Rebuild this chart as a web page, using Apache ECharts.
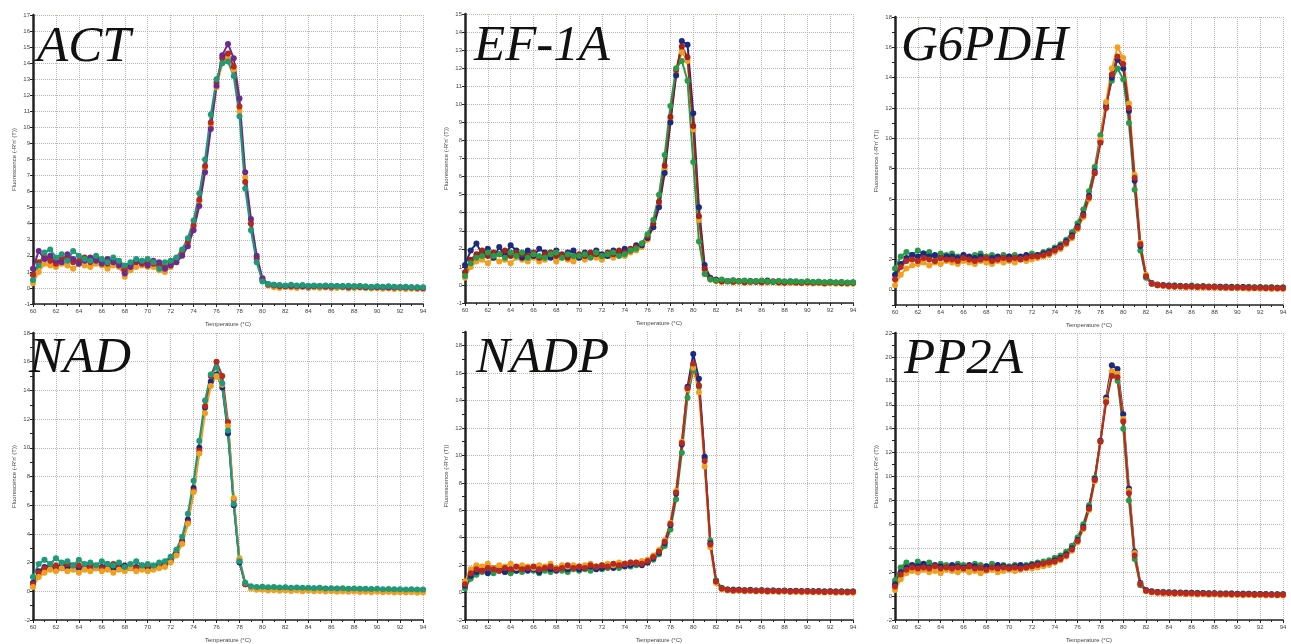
<!DOCTYPE html>
<html>
<head>
<meta charset="utf-8">
<title>Melt curves</title>
<script src="https://cdn.jsdelivr.net/npm/echarts@6/dist/echarts.min.js"></script>
<style>
html,body{margin:0;padding:0;background:#fff;}
#chart{width:1291px;height:644px;}
</style>
</head>
<body>
<div id="chart"></div>
<script>
// temperature steps (°C)
var temps = [
  60,60.5,61,61.5,62,62.5,63,63.5,64,64.5,
  65,65.5,66,66.5,67,67.5,68,68.5,69,69.5,
  70,70.5,71,71.5,72,72.5,73,73.5,74,74.5,
  75,75.5,76,76.5,77,77.5,78,78.5,79,79.5,
  80,80.5,81,81.5,82,82.5,83,83.5,84,84.5,
  85,85.5,86,86.5,87,87.5,88,88.5,89,89.5,
  90,90.5,91,91.5,92,92.5,93,93.5,94
];

// ACT replicates
var actA = [
  0.8,1.6,1.9,1.7,1.5,1.8,1.9,1.6,1.7,1.9,
  1.6,1.8,1.6,1.5,1.7,1.5,1.2,1.4,1.6,1.5,
  1.6,1.5,1.4,1.3,1.5,1.8,2.2,2.9,3.9,5.5,
  7.6,10.3,12.8,14.3,14.6,13.8,11.3,6.6,4.0,1.8,
  0.5,0.2,0.15,0.1,0.12,0.1,0.1,0.12,0.1,0.1,
  0.1,0.08,0.1,0.1,0.08,0.05,0.1,0.06,0.05,0.05,
  0.05,0.04,0.06,0.03,0.02,0.04,0.02,0.0,0.01
];
var actB = [
  1.2,2.3,1.8,2.0,1.7,1.6,2.1,1.8,1.5,1.7,
  1.9,1.7,1.5,1.8,1.6,1.4,0.9,1.3,1.7,1.6,
  1.4,1.7,1.6,1.2,1.4,1.6,2.0,2.6,3.6,5.1,
  7.2,9.9,12.6,14.5,15.2,14.3,11.8,7.2,4.3,2.0,
  0.6,0.25,0.2,0.15,0.1,0.15,0.12,0.1,0.08,0.12,
  0.1,0.12,0.08,0.1,0.1,0.07,0.08,0.1,0.06,0.04,
  0.06,0.05,0.03,0.05,0.04,0.02,0.03,0.02,0.0
];
var actC = [
  0.5,1.4,2.2,2.4,1.9,2.1,1.7,2.3,2.0,1.8,
  1.7,2.0,1.8,1.6,1.9,1.7,1.4,1.6,1.8,1.7,
  1.8,1.6,1.2,1.6,1.7,1.9,2.4,3.1,4.2,5.9,
  8.0,10.8,13.0,14.0,14.1,13.2,10.7,6.2,3.6,1.6,
  0.4,0.25,0.2,0.18,0.15,0.2,0.15,0.18,0.14,0.15,
  0.12,0.15,0.13,0.1,0.12,0.14,0.1,0.12,0.1,0.08,
  0.1,0.08,0.1,0.07,0.06,0.08,0.05,0.04,0.05
];
var actD = [
  0.3,1.0,1.5,1.4,1.3,1.5,1.4,1.2,1.5,1.4,
  1.3,1.5,1.4,1.2,1.4,1.3,0.7,1.1,1.3,1.4,
  1.3,1.3,1.1,1.0,1.3,1.6,2.1,2.8,3.8,5.4,
  7.5,10.1,12.5,14.0,14.3,13.6,11.0,6.9,4.2,1.9,
  0.6,0.15,0.05,0.0,0.05,0.02,0.0,0.04,0.0,0.02,
  0.0,0.03,-0.02,0.0,0.02,-0.03,0.0,0.01,-0.02,-0.04,
  -0.02,-0.05,-0.03,-0.06,-0.04,-0.07,-0.05,-0.06,-0.08
];

// EF-1A replicates
var efA = [
  0.7,1.4,1.7,1.9,1.6,1.8,1.7,1.9,1.6,1.8,
  1.7,1.6,1.8,1.5,1.7,1.8,1.6,1.7,1.5,1.6,
  1.7,1.6,1.8,1.7,1.6,1.8,1.7,1.9,1.8,2.0,
  2.1,2.3,2.7,3.4,4.6,6.6,9.3,11.9,13.2,12.6,
  8.8,3.8,0.9,0.35,0.25,0.2,0.22,0.18,0.2,0.15,
  0.18,0.2,0.15,0.17,0.2,0.15,0.12,0.16,0.14,0.12,
  0.15,0.12,0.14,0.1,0.13,0.12,0.1,0.11,0.12
];
var efB = [
  1.1,1.9,2.3,1.7,2.0,1.5,2.1,1.6,2.2,1.9,
  1.5,1.9,1.6,2.0,1.8,1.5,1.9,1.6,1.8,1.9,
  1.5,1.8,1.6,1.9,1.7,1.6,1.9,1.8,2.0,1.9,
  2.2,2.2,2.6,3.2,4.3,6.2,9.0,11.6,13.5,13.3,
  9.5,4.3,1.1,0.4,0.3,0.25,0.2,0.25,0.22,0.2,
  0.22,0.18,0.2,0.24,0.18,0.2,0.16,0.2,0.17,0.15,
  0.18,0.15,0.17,0.14,0.16,0.13,0.15,0.12,0.14
];
var efC = [
  0.4,1.0,1.3,1.4,1.2,1.5,1.3,1.4,1.2,1.5,
  1.4,1.3,1.5,1.3,1.4,1.6,1.3,1.5,1.4,1.3,
  1.5,1.4,1.6,1.5,1.4,1.6,1.5,1.7,1.6,1.8,
  1.9,2.1,2.5,3.2,4.4,6.4,9.1,11.7,12.9,12.4,
  8.6,3.6,0.8,0.3,0.2,0.15,0.18,0.14,0.16,0.12,
  0.14,0.16,0.12,0.13,0.15,0.1,0.12,0.1,0.11,0.09,
  0.1,0.08,0.1,0.07,0.09,0.06,0.08,0.05,0.06
];
var efD = [
  0.5,1.2,1.5,1.6,1.8,1.6,1.7,1.5,1.8,1.6,
  1.8,1.5,1.7,1.6,1.5,1.7,1.8,1.5,1.7,1.6,
  1.6,1.7,1.5,1.8,1.6,1.7,1.8,1.6,1.7,1.9,
  2.0,2.3,2.8,3.6,5.0,7.2,9.9,12.0,12.4,11.3,
  6.8,2.4,0.6,0.3,0.25,0.3,0.22,0.26,0.2,0.24,
  0.2,0.22,0.25,0.2,0.18,0.22,0.2,0.18,0.2,0.17,
  0.2,0.16,0.18,0.15,0.17,0.14,0.16,0.13,0.15
];

// G6PDH replicates
var g6A = [
  1.0,1.7,2.1,2.3,2.2,2.4,2.2,2.3,2.1,2.2,
  2.2,2.1,2.3,2.2,2.1,2.2,2.0,2.1,2.2,2.1,
  2.2,2.1,2.2,2.3,2.2,2.3,2.4,2.5,2.7,2.9,
  3.2,3.6,4.2,5.0,6.2,7.8,9.8,12.1,14.0,15.2,
  14.6,11.8,7.2,2.9,0.9,0.45,0.35,0.3,0.28,0.25,
  0.25,0.22,0.24,0.2,0.22,0.2,0.18,0.2,0.17,0.18,
  0.16,0.18,0.15,0.14,0.16,0.13,0.14,0.12,0.13
];
var g6B = [
  1.4,2.2,2.5,2.3,2.6,2.4,2.5,2.2,2.4,2.3,
  2.4,2.2,2.3,2.1,2.3,2.4,2.2,2.3,2.1,2.3,
  2.2,2.3,2.1,2.2,2.4,2.3,2.5,2.6,2.8,3.0,
  3.3,3.8,4.4,5.3,6.5,8.1,10.2,12.3,13.8,14.6,
  13.9,11.0,6.6,2.6,0.8,0.4,0.3,0.32,0.28,0.3,
  0.27,0.25,0.28,0.24,0.25,0.22,0.24,0.2,0.22,0.2,
  0.21,0.19,0.2,0.18,0.19,0.17,0.18,0.16,0.17
];
var g6C = [
  0.3,1.0,1.4,1.6,1.7,1.8,1.6,1.8,1.7,1.9,
  1.8,1.7,1.9,1.8,1.7,1.9,1.8,1.7,1.9,1.8,
  1.9,1.8,2.0,1.9,2.0,2.1,2.2,2.3,2.5,2.7,
  3.0,3.4,4.0,4.8,6.0,7.7,9.9,12.4,14.6,16.0,
  15.3,12.3,7.6,3.1,1.0,0.4,0.3,0.25,0.2,0.18,
  0.2,0.16,0.18,0.15,0.14,0.16,0.12,0.14,0.1,0.12,
  0.1,0.11,0.08,0.1,0.07,0.09,0.06,0.08,0.05
];
var g6D = [
  0.7,1.5,1.9,2.0,1.9,2.1,2.0,1.9,2.1,2.0,
  2.0,1.9,2.1,2.0,1.9,2.0,2.1,1.9,2.0,2.1,
  2.0,2.1,2.0,2.1,2.2,2.2,2.3,2.4,2.6,2.8,
  3.1,3.5,4.1,4.9,6.1,7.7,9.7,12.0,14.2,15.4,
  14.9,12.0,7.4,3.0,0.9,0.4,0.3,0.28,0.24,0.22,
  0.22,0.2,0.21,0.18,0.2,0.17,0.18,0.15,0.16,0.14,
  0.15,0.13,0.14,0.12,0.13,0.11,0.12,0.1,0.11
];

// NAD replicates
var nadA = [
  0.6,1.4,1.7,1.8,1.6,1.9,1.7,1.8,1.6,1.7,
  1.8,1.6,1.7,1.9,1.6,1.7,1.8,1.6,1.7,1.8,
  1.6,1.7,1.8,1.9,2.2,2.7,3.5,5.0,7.2,10.0,
  12.8,14.6,15.1,14.2,11.0,6.0,2.0,0.5,0.3,0.25,
  0.28,0.22,0.25,0.2,0.24,0.18,0.22,0.2,0.18,0.2,
  0.16,0.18,0.15,0.17,0.14,0.15,0.12,0.14,0.1,0.12,
  0.1,0.08,0.1,0.06,0.08,0.05,0.06,0.04,0.05
];
var nadB = [
  1.0,1.9,2.2,1.9,2.3,2.0,2.1,1.8,2.2,1.9,
  2.0,1.8,2.1,1.9,1.8,2.0,1.7,1.9,2.1,1.8,
  1.9,1.8,2.0,2.1,2.4,2.9,3.8,5.4,7.7,10.5,
  13.3,15.1,15.6,14.5,11.2,6.1,2.1,0.6,0.35,0.3,
  0.32,0.28,0.3,0.26,0.28,0.25,0.27,0.24,0.25,0.22,
  0.24,0.2,0.22,0.2,0.21,0.18,0.2,0.17,0.18,0.16,
  0.17,0.15,0.16,0.14,0.15,0.13,0.14,0.12,0.13
];
var nadC = [
  0.3,1.0,1.3,1.5,1.4,1.6,1.4,1.5,1.3,1.5,
  1.4,1.6,1.4,1.5,1.3,1.5,1.4,1.6,1.4,1.5,
  1.4,1.5,1.6,1.7,2.0,2.5,3.3,4.7,6.9,9.6,
  12.4,14.3,15.0,14.4,11.5,6.5,2.3,0.6,0.2,0.1,
  0.1,0.05,0.08,0.04,0.06,0.02,0.05,0.0,0.03,0.0,
  0.02,-0.02,0.0,-0.03,-0.01,-0.04,-0.02,-0.05,-0.03,-0.06,
  -0.04,-0.07,-0.05,-0.08,-0.06,-0.09,-0.07,-0.1,-0.08
];
var nadD = [
  0.5,1.3,1.6,1.7,1.8,1.6,1.9,1.7,1.8,1.6,
  1.7,1.8,1.6,1.7,1.9,1.6,1.7,1.8,1.6,1.7,
  1.8,1.6,1.7,1.8,2.1,2.6,3.4,4.8,7.0,9.8,
  12.9,15.0,16.0,15.0,11.8,6.4,2.2,0.5,0.25,0.2,
  0.22,0.18,0.2,0.16,0.18,0.15,0.17,0.14,0.15,0.12,
  0.14,0.12,0.13,0.1,0.12,0.09,0.1,0.08,0.09,0.07,
  0.08,0.06,0.07,0.05,0.06,0.04,0.05,0.03,0.04
];

// NADP replicates
var nadpA = [
  0.5,1.2,1.5,1.7,1.4,1.8,1.6,1.5,1.7,1.6,
  1.8,1.6,1.7,1.5,1.8,1.7,1.6,1.8,1.7,1.9,
  1.7,1.8,1.9,1.7,1.8,1.9,1.8,2.0,1.9,2.0,
  2.1,2.0,2.2,2.5,2.9,3.6,4.9,7.2,10.8,15.0,
  17.4,15.6,9.9,3.6,0.8,0.3,0.2,0.18,0.2,0.15,
  0.18,0.15,0.16,0.13,0.15,0.12,0.14,0.11,0.12,0.1,
  0.12,0.09,0.1,0.08,0.1,0.07,0.08,0.06,0.07
];
var nadpB = [
  0.8,1.7,2.0,1.9,2.1,1.8,2.0,1.9,2.1,1.8,
  2.0,1.9,1.8,2.0,1.9,2.1,1.8,2.0,1.9,2.0,
  1.9,2.0,2.1,1.9,2.0,2.1,2.0,2.2,2.1,2.2,
  2.2,2.3,2.4,2.7,3.1,3.8,5.1,7.4,11.0,14.8,
  16.4,14.6,9.2,3.3,0.7,0.25,0.15,0.12,0.14,0.1,
  0.12,0.08,0.1,0.06,0.08,0.05,0.07,0.04,0.05,0.03,
  0.04,0.02,0.03,0.0,0.02,-0.01,0.0,-0.02,-0.01
];
var nadpC = [
  0.3,1.0,1.3,1.5,1.6,1.4,1.7,1.5,1.4,1.6,
  1.5,1.7,1.6,1.4,1.6,1.5,1.7,1.6,1.5,1.7,
  1.6,1.7,1.6,1.8,1.7,1.8,1.9,1.8,2.0,1.9,
  2.0,2.1,2.2,2.4,2.8,3.4,4.6,6.8,10.2,14.2,
  16.2,15.0,9.8,3.8,0.9,0.35,0.25,0.22,0.2,0.18,
  0.2,0.16,0.18,0.15,0.16,0.13,0.15,0.12,0.13,0.11,
  0.12,0.1,0.11,0.09,0.1,0.08,0.09,0.07,0.08
];
var nadpD = [
  0.6,1.4,1.7,1.6,1.8,1.7,1.6,1.8,1.7,1.9,
  1.7,1.8,1.9,1.7,1.8,1.9,1.7,1.8,2.0,1.8,
  1.9,1.8,2.0,1.9,2.0,1.9,2.1,2.0,2.1,2.2,
  2.2,2.1,2.3,2.6,3.0,3.7,5.0,7.3,10.9,14.9,
  16.7,15.1,9.6,3.5,0.8,0.3,0.18,0.15,0.17,0.13,
  0.15,0.12,0.14,0.1,0.12,0.09,0.11,0.08,0.1,0.07,
  0.08,0.06,0.07,0.05,0.06,0.04,0.05,0.03,0.04
];

// PP2A replicates
var ppA = [
  1.0,2.0,2.4,2.6,2.5,2.7,2.4,2.6,2.5,2.4,
  2.6,2.5,2.4,2.6,2.5,2.3,2.5,2.4,2.6,2.5,
  2.4,2.5,2.6,2.5,2.6,2.7,2.7,2.8,3.0,3.2,
  3.5,4.0,4.7,5.8,7.4,9.8,13.0,16.6,19.3,19.0,
  15.2,9.0,3.7,1.1,0.5,0.4,0.35,0.3,0.32,0.28,
  0.3,0.26,0.28,0.24,0.26,0.22,0.24,0.2,0.22,0.19,
  0.2,0.18,0.19,0.16,0.18,0.15,0.16,0.14,0.15
];
var ppB = [
  1.3,2.4,2.8,2.5,2.9,2.6,2.8,2.5,2.7,2.6,
  2.5,2.7,2.6,2.4,2.7,2.6,2.5,2.7,2.4,2.6,
  2.5,2.6,2.4,2.6,2.7,2.8,2.9,3.0,3.2,3.4,
  3.7,4.2,4.9,6.0,7.6,9.9,13.0,16.3,18.6,18.0,
  14.0,8.0,3.1,0.9,0.45,0.38,0.34,0.36,0.3,0.32,
  0.28,0.3,0.27,0.28,0.25,0.26,0.23,0.24,0.22,0.23,
  0.2,0.21,0.19,0.2,0.17,0.18,0.16,0.17,0.15
];
var ppC = [
  0.5,1.4,1.9,2.1,2.0,2.2,2.0,2.1,1.9,2.2,
  2.1,2.0,2.2,2.0,2.1,1.9,2.1,2.2,2.0,2.1,
  2.2,2.1,2.2,2.3,2.3,2.4,2.5,2.6,2.8,3.0,
  3.3,3.8,4.5,5.6,7.2,9.6,12.9,16.4,18.8,18.6,
  14.8,8.8,3.6,1.0,0.4,0.3,0.25,0.2,0.22,0.18,
  0.2,0.16,0.17,0.14,0.15,0.12,0.13,0.1,0.11,0.09,
  0.1,0.08,0.09,0.06,0.07,0.05,0.06,0.04,0.05
];
var ppD = [
  0.8,1.8,2.2,2.4,2.3,2.4,2.3,2.5,2.3,2.4,
  2.3,2.4,2.3,2.5,2.3,2.4,2.2,2.4,2.3,2.4,
  2.3,2.4,2.3,2.4,2.5,2.6,2.7,2.8,2.9,3.1,
  3.4,3.9,4.6,5.7,7.3,9.7,12.9,16.2,18.4,18.3,
  14.6,8.6,3.4,1.0,0.45,0.35,0.3,0.28,0.26,0.24,
  0.25,0.22,0.23,0.2,0.21,0.18,0.2,0.17,0.18,0.15,
  0.16,0.14,0.15,0.12,0.13,0.11,0.12,0.1,0.11
];

var panels = [
  {name:'ACT',   reps:[actD, actA, actB, actC],     colors:['#f0a020','#b8281e','#6b2a8c','#1f9a78'], min:-1, max:17, step:1, left:33,  top:15,  width:390, height:289, tx:37,  ty:48},
  {name:'EF-1A', reps:[efC, efB, efA, efD],         colors:['#f0a020','#1c2a80','#a3221a','#2a9a48'], min:-1, max:15, step:1, left:465, top:14,  width:388, height:289, tx:474, ty:47},
  {name:'G6PDH', reps:[g6B, g6A, g6C, g6D],         colors:['#2a9a48','#1c2a80','#f0a020','#b8281e'], min:-1, max:18, step:2, left:895, top:17,  width:388, height:288, tx:901, ty:47},
  {name:'NAD',   reps:[nadA, nadD, nadC, nadB],     colors:['#1c2a80','#b8281e','#f0a020','#1f9a78'], min:-2, max:18, step:2, left:33,  top:333, width:390, height:290, tx:29,  ty:359},
  {name:'NADP',  reps:[nadpC, nadpA, nadpB, nadpD], colors:['#2a9a48','#1c2a80','#f0a020','#b8281e'], min:-2, max:19, step:2, left:465, top:332, width:388, height:290, tx:476, ty:359},
  {name:'PP2A',  reps:[ppB, ppA, ppC, ppD],         colors:['#2a9a48','#1c2a80','#f0a020','#b8281e'], min:-2, max:22, step:2, left:895, top:333, width:388, height:288, tx:904, ty:360}
];

var gridColor = '#c2b2b2';
var textColor = '#444';

function pairs(arr) {
  var out = [];
  for (var i = 0; i < temps.length; i++) {
    out.push([temps[i], arr[i]]);
  }
  return out;
}

var grids = [], xAxes = [], yAxes = [], series = [], texts = [];

panels.forEach(function (p, k) {
  grids.push({left: p.left, top: p.top, width: p.width, height: p.height});

  xAxes.push({
    gridIndex: k, type: 'value', min: 60, max: 94, interval: 2,
    name: 'Temperature (°C)', nameLocation: 'middle', nameGap: 17,
    nameTextStyle: {fontSize: 6, color: textColor, fontFamily: 'Liberation Sans'},
    axisLine: {onZero: false, lineStyle: {color: '#222', width: 1.5}},
    axisTick: {length: 3, lineStyle: {color: '#222'}},
    minorTick: {show: true, splitNumber: 2, length: 2, lineStyle: {color: '#222'}},
    axisLabel: {fontSize: 6, color: textColor, margin: 4, fontFamily: 'Liberation Sans'},
    splitLine: {show: true, lineStyle: {type: 'dotted', color: gridColor, width: 1}}
  });

  var lineColors;
  if (p.step === 1) {
    lineColors = [gridColor];
  } else if (p.min % 2 === 0) {
    lineColors = [gridColor, 'rgba(0,0,0,0)'];
  } else {
    lineColors = ['rgba(0,0,0,0)', gridColor];
  }

  yAxes.push({
    gridIndex: k, type: 'value', min: p.min, max: p.max, interval: 1,
    name: "Fluorescence (-R'n' (T))", nameLocation: 'middle', nameGap: 16,
    nameTextStyle: {fontSize: 6, color: textColor, fontFamily: 'Liberation Sans'},
    axisLine: {show: true, onZero: false, lineStyle: {color: '#222', width: 2.5}},
    axisTick: {show: true, length: 3, lineStyle: {color: '#222'}},
    axisLabel: {
      fontSize: 6, color: textColor, margin: 3, fontFamily: 'Liberation Sans',
      formatter: function (v) { return (p.step === 2 && v % 2 !== 0) ? '' : String(v); }
    },
    splitLine: {show: true, lineStyle: {type: 'dotted', color: lineColors, width: 1}}
  });

  p.reps.forEach(function (arr, j) {
    var c = p.colors[j];
    series.push({
      type: 'line', xAxisIndex: k, yAxisIndex: k,
      data: pairs(arr),
      symbol: 'circle', symbolSize: 6, showSymbol: true,
      lineStyle: {width: 2, color: c},
      itemStyle: {color: c},
      silent: true
    });
  });

  texts.push({
    type: 'text', x: p.tx, y: p.ty, z: 100,
    style: {
      text: p.name, fill: '#111', verticalAlign: 'middle',
      fontSize: 51, fontStyle: 'italic', fontFamily: 'Liberation Serif'
    }
  });
});

var myChart = echarts.init(document.getElementById('chart'));
var option = {
  backgroundColor: '#fff',
  animation: false,
  grid: grids,
  xAxis: xAxes,
  yAxis: yAxes,
  series: series,
  graphic: texts
};
myChart.setOption(option);
</script>
</body>
</html>
